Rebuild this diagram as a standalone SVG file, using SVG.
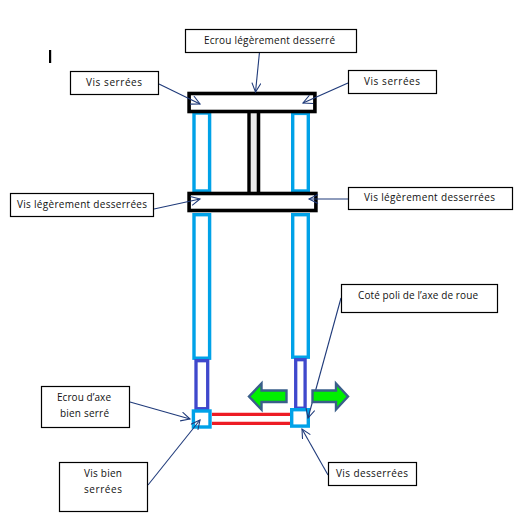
<svg xmlns="http://www.w3.org/2000/svg" width="521" height="516" viewBox="0 0 521 516">
<style>
.box{fill:#fff;stroke:#000;stroke-width:1.2}
.t{font-family:"Open Sans","DejaVu Sans",sans-serif;font-size:10px;fill:#111}
.bar{fill:#fff;stroke:#000;stroke-width:3.6}
.blue{fill:#fff;stroke:#00a2e8;stroke-width:3.4}
.purple{fill:#fff;stroke:#3f48cc;stroke-width:3.3}
.red{stroke:#ed1c24;stroke-width:3.2;fill:none}
.grn{fill:#00f000;stroke:#3a5f8a;stroke-width:2.4}
.c{stroke:#1f3a7a;stroke-width:1.1;fill:none;marker-end:url(#a)}
</style>
<defs>
<marker id="a" markerUnits="userSpaceOnUse" markerWidth="12" markerHeight="12" refX="10" refY="5" orient="auto">
<path d="M1 0.5L10 5L1 9.5" fill="none" stroke="#1f3a7a" stroke-width="1.1"/>
</marker>
</defs>
<rect x="49" y="50" width="2.2" height="13" fill="#000"/>
<g id="fork">
<rect class="blue" x="194" y="113" width="15.6" height="78"/>
<rect class="blue" x="292.7" y="113.4" width="15.6" height="77.6"/>
<rect x="250.7" y="112" width="6" height="80" fill="#ececec"/>
<path d="M249 112V192M258.4 112V192" stroke="#000" stroke-width="3.4" fill="none"/>
<path d="M260.5 112V192" stroke="#bbb" stroke-width="1" fill="none"/>
<rect class="bar" x="189.1" y="93.5" width="125.8" height="18"/>
<rect class="bar" x="189.1" y="193.5" width="126.8" height="17"/>
<rect class="blue" x="194" y="214.7" width="15.6" height="143.5"/>
<rect class="blue" x="292.7" y="214.7" width="15.6" height="142.5"/>
<rect class="purple" x="196" y="360.7" width="11.7" height="48"/>
<rect class="purple" x="295.7" y="359.7" width="9.4" height="48.5"/>
<path class="red" d="M212 414.4H290M212 423.4H290"/>
<rect class="blue" x="193.4" y="411" width="16.6" height="16"/>
<rect class="blue" x="291.7" y="409.7" width="16.6" height="16.4"/>
</g>
<g id="connectors">
<path class="c" d="M159 84L200 104"/>
<path class="c" d="M259.5 52L255.5 92"/>
<path class="c" d="M348 83L303 103"/>
<path class="c" d="M154 209L200 199"/>
<path class="c" d="M348 199H309"/>
<path class="c" d="M130 402L190 419"/>
<path class="c" d="M148 485L200 420"/>
<path class="c" d="M341 298L308 418"/>
<path class="c" d="M328 475L302 429"/>
</g>
<g id="arrows">
<path class="grn" d="M286.5 390.5H261.5V383.5L249 396.5L261.5 409.5V402H286.5Z"/>
<path class="grn" d="M312.5 390.5H336V383.5L348 396.5L336 409.5V402H312.5Z"/>
</g>
<g id="n1"><rect class="box" x="185.5" y="29.5" width="171" height="23"/><text class="t" x="204" y="44" textLength="131" lengthAdjust="spacing">Ecrou légèrement desserré</text></g>
<g id="n2"><rect class="box" x="70.5" y="71.5" width="88" height="23"/><text class="t" x="86" y="86" textLength="56">Vis serrées</text></g>
<g id="n3"><rect class="box" x="348.5" y="70.5" width="88" height="23"/><text class="t" x="364" y="85" textLength="56">Vis serrées</text></g>
<g id="n4"><rect class="box" x="10.5" y="193.5" width="143" height="23"/><text class="t" x="17" y="208" textLength="130">Vis légèrement desserrées</text></g>
<g id="n5"><rect class="box" x="348.5" y="187.5" width="164" height="22"/><text class="t" x="364" y="201" textLength="131">Vis légèrement desserrées</text></g>
<g id="n6"><rect class="box" x="341.5" y="284.5" width="156" height="28"/><text class="t" x="358" y="299" textLength="120">Coté poli de l’axe de roue</text></g>
<g id="n7"><rect class="box" x="41.5" y="386.5" width="88" height="41"/><text class="t" x="57" y="401" textLength="54">Ecrou d’axe</text><text class="t" x="60" y="417" textLength="49">bien serré</text></g>
<g id="n8"><rect class="box" x="59.5" y="462.5" width="88" height="49"/><text class="t" x="84" y="477" textLength="38">Vis bien</text><text class="t" x="84" y="493" textLength="38">serrées</text></g>
<g id="n9"><rect class="box" x="328.5" y="462.5" width="88" height="23"/><text class="t" x="336" y="477" textLength="72">Vis desserrées</text></g>
</svg>
